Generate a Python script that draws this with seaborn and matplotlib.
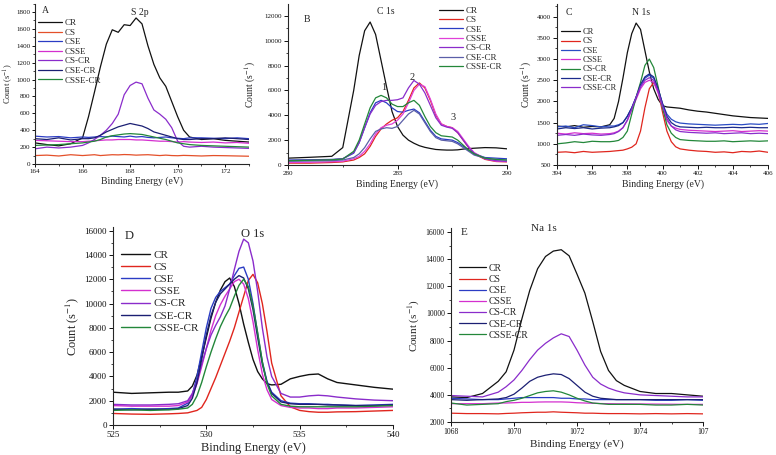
import matplotlib
matplotlib.use("Agg")
import matplotlib.pyplot as plt
from matplotlib.ticker import MultipleLocator
import pandas as pd
import seaborn as sns

# ─── SAMPLES ─────────────────────────────────────────────────
SAMPLES = ["CR", "CS", "CSE", "CSSE", "CS-CR", "CSE-CR", "CSSE-CR"]

# ─── A: S 2p ─────────────────────────────────────────────────
S2P_X = [164, 164.5, 165, 165.5, 166, 166.25, 166.5, 166.75, 167, 167.25,
         167.5, 167.75, 168, 168.25, 168.5, 168.75, 169, 169.25, 169.5, 169.75,
         170, 170.25, 170.5, 171, 171.5, 172, 172.5, 173]
S2P_CR = [250, 230, 215, 240, 310, 560, 850, 1150, 1420, 1590, 1560, 1650, 1640, 1730,
          1660, 1400, 1180, 1020, 920, 740, 560, 400, 320, 290, 300, 280, 270, 260]
S2P_CS = [100, 105, 95, 110, 100, 105, 110, 100, 105, 110, 108, 112, 110, 105,
          108, 110, 105, 100, 105, 100, 98, 102, 100, 95, 100, 98, 95, 92]
S2P_CSE = [330, 320, 325, 310, 320, 315, 320, 325, 320, 330, 325, 320, 330, 320,
           325, 315, 310, 315, 320, 310, 305, 300, 310, 310, 305, 300, 310, 300]
S2P_CSSE = [280, 275, 270, 265, 265, 270, 275, 280, 285, 285, 290, 290, 290, 285,
            285, 280, 275, 270, 270, 265, 260, 265, 260, 255, 260, 250, 255, 245]
S2P_CS_CR = [180, 200, 190, 200, 220, 250, 290, 340, 400, 480, 590, 820, 930, 970,
             950, 780, 640, 590, 530, 430, 270, 210, 200, 210, 200, 195, 190, 185]
S2P_CSE_CR = [300, 290, 310, 285, 300, 300, 310, 340, 380, 410, 440, 460, 480, 465,
              450, 420, 380, 360, 340, 320, 300, 290, 290, 300, 300, 310, 300, 290]
S2P_CSSE_CR = [220, 225, 230, 240, 250, 260, 270, 290, 320, 335, 345, 355, 360, 355,
               350, 335, 320, 305, 290, 270, 250, 240, 230, 220, 215, 210, 205, 200]

# ─── B: C 1s ─────────────────────────────────────────────────
C1S_X = [280, 281, 282, 282.5, 283, 283.25, 283.5, 283.75, 284, 284.25,
         284.5, 284.75, 285, 285.25, 285.5, 285.75, 286, 286.25, 286.5, 286.75,
         287, 287.25, 287.5, 287.75, 288, 288.25, 288.5, 289, 289.5, 290]
C1S_CR = [550, 620, 700, 1400, 6000, 8800, 10800, 11500, 10500, 8400,
          6300, 4300, 3100, 2400, 2000, 1750, 1550, 1420, 1330, 1250,
          1220, 1200, 1200, 1220, 1280, 1320, 1350, 1400, 1380, 1300]
C1S_CS = [150, 150, 200, 250, 400, 600, 900, 1500, 2300, 2900,
          3300, 3600, 3800, 4300, 5200, 6200, 6600, 6200, 5200, 4000,
          3300, 3100, 3000, 2600, 2000, 1400, 900, 450, 280, 250]
C1S_CSE = [400, 420, 450, 500, 950, 1800, 3000, 4200, 5000, 5200,
           5000, 4600, 4300, 4250, 4400, 4500, 4200, 3500, 2800, 2300,
           2100, 2050, 2000, 1800, 1500, 1200, 900, 600, 550, 500]
C1S_CSSE = [200, 220, 260, 300, 500, 700, 1100, 1700, 2500, 3000,
            3200, 3300, 3600, 4100, 5000, 6000, 6500, 6300, 5300, 4100,
            3300, 3100, 3000, 2700, 2100, 1500, 1000, 500, 300, 280]
C1S_CS_CR = [350, 380, 420, 500, 1000, 1800, 3000, 4100, 4800, 5100,
             5200, 5200, 5250, 5400, 6200, 6800, 6500, 5800, 4800, 3800,
             3200, 3050, 2950, 2600, 2000, 1400, 950, 500, 350, 300]
C1S_CSE_CR = [300, 320, 350, 400, 600, 900, 1400, 2100, 2700, 2900,
              3000, 2950, 3100, 3600, 4100, 4400, 4100, 3400, 2700, 2200,
              2000, 1950, 1900, 1700, 1400, 1100, 800, 550, 450, 400]
C1S_CSSE_CR = [350, 380, 420, 480, 1100, 2000, 3300, 4600, 5400, 5600,
               5400, 4900, 4700, 4700, 5000, 5200, 4800, 3900, 3100, 2600,
               2350, 2300, 2250, 2000, 1600, 1200, 900, 550, 450, 400]
C1S_PEAKS = ["1", "2", "3"]
C1S_PEAK_X = [284.35, 285.65, 287.55]
C1S_PEAK_Y = [6200, 7000, 3800]

# ─── C: N 1s ─────────────────────────────────────────────────
N1S_X = [394, 394.5, 395, 395.5, 396, 396.5, 397, 397.25, 397.5, 397.75,
         398, 398.25, 398.5, 398.75, 399, 399.25, 399.5, 399.75, 400, 400.25,
         400.5, 400.75, 401, 401.5, 402, 402.5, 403, 403.5, 404, 404.5,
         405, 405.5, 406]
N1S_CR = [1420, 1400, 1430, 1390, 1410, 1400, 1450, 1600, 2000, 2550,
          3150, 3600, 3850, 3700, 3200, 2700, 2300, 2050, 1900, 1870,
          1860, 1850, 1840, 1800, 1770, 1750, 1720, 1690, 1660, 1640,
          1620, 1610, 1600]
N1S_CS = [800, 810, 790, 820, 800, 810, 820, 830, 840, 850,
          880, 920, 1000, 1300, 1850, 2300, 2450, 2250, 1750, 1300,
          1050, 930, 880, 850, 830, 820, 800, 810, 790, 820,
          810, 830, 800]
N1S_CSE = [1400, 1420, 1380, 1450, 1430, 1400, 1420, 1420, 1450, 1500,
           1650, 1850, 2100, 2350, 2550, 2620, 2550, 2300, 1950, 1700,
           1580, 1520, 1490, 1470, 1460, 1450, 1440, 1450, 1460, 1450,
           1470, 1460, 1480]
N1S_CSSE = [1250, 1230, 1260, 1240, 1250, 1230, 1240, 1260, 1300, 1380,
            1550, 1800, 2050, 2300, 2450, 2500, 2450, 2200, 1850, 1550,
            1420, 1370, 1340, 1320, 1310, 1300, 1290, 1300, 1310, 1290,
            1300, 1310, 1300]
N1S_CS_CR = [1000, 1020, 1050, 1030, 1060, 1050, 1050, 1060, 1080, 1150,
             1300, 1700, 2100, 2450, 2850, 3000, 2800, 2350, 1850, 1450,
             1250, 1150, 1100, 1080, 1070, 1060, 1060, 1070, 1050, 1060,
             1070, 1060, 1070]
N1S_CSE_CR = [1350, 1380, 1360, 1380, 1350, 1370, 1380, 1400, 1430, 1500,
              1650, 1850, 2100, 2400, 2580, 2650, 2580, 2300, 1950, 1650,
              1500, 1430, 1400, 1390, 1380, 1390, 1380, 1380, 1390, 1380,
              1390, 1380, 1380]
N1S_CSSE_CR = [1200, 1220, 1200, 1230, 1210, 1200, 1220, 1240, 1290, 1380,
               1560, 1820, 2100, 2350, 2500, 2560, 2500, 2250, 1900, 1600,
               1420, 1330, 1290, 1270, 1260, 1250, 1260, 1240, 1250, 1260,
               1240, 1250, 1240]

# ─── D: O 1s ─────────────────────────────────────────────────
O1S_X = [525, 526, 527, 528, 528.5, 529, 529.25, 529.5, 529.75, 530,
         530.25, 530.5, 530.75, 531, 531.25, 531.5, 531.75, 532, 532.25, 532.5,
         532.75, 533, 533.25, 533.5, 534, 534.5, 535, 535.5, 536, 536.5,
         537, 538, 539, 540]
O1S_CR = [2700, 2600, 2650, 2700, 2700, 2800, 3200, 4100, 5600, 7200,
          8800, 10100, 11100, 11800, 12100, 11400, 10000, 8300, 6800, 5400,
          4400, 3800, 3400, 3300, 3350, 3800, 4000, 4150, 4200, 3800,
          3500, 3300, 3100, 2950]
O1S_CS = [950, 900, 880, 920, 950, 1000, 1100, 1200, 1450, 2100,
          3000, 3900, 4900, 5900, 6900, 8000, 9300, 10600, 11900, 12400,
          11700, 10000, 7700, 5100, 2400, 1500, 1200, 1100, 1050, 1050,
          1080, 1100, 1150, 1200]
O1S_CSE = [1300, 1350, 1300, 1350, 1400, 1800, 2500, 4000, 6000, 8000,
           9600, 10500, 11000, 11300, 11600, 12300, 12900, 13000, 12000, 10000,
           7500, 5200, 3600, 2700, 2000, 1800, 1750, 1750, 1700, 1700,
           1650, 1600, 1650, 1700]
O1S_CSSE = [1600, 1550, 1550, 1550, 1600, 1900, 2400, 3400, 4800, 6300,
            7800, 9000, 9900, 10600, 11200, 11800, 12000, 11600, 10400, 8500,
            6200, 4200, 2900, 2100, 1600, 1450, 1400, 1400, 1350, 1350,
            1400, 1400, 1450, 1500]
O1S_CS_CR = [1700, 1650, 1650, 1700, 1750, 2000, 2600, 3600, 5000, 6300,
             7400, 8200, 8900, 9800, 11200, 12800, 14300, 15300, 15000, 13500,
             11000, 8000, 5600, 4000, 2600, 2300, 2300, 2400, 2450, 2400,
             2300, 2150, 2050, 2000]
O1S_CSE_CR = [1300, 1250, 1300, 1280, 1350, 1600, 2200, 3500, 5400, 7400,
              9000, 10100, 10800, 11200, 11600, 12000, 12300, 12100, 11200, 9500,
              7200, 5000, 3500, 2600, 1900, 1750, 1700, 1700, 1700, 1650,
              1650, 1600, 1600, 1650]
O1S_CSSE_CR = [1200, 1250, 1200, 1250, 1300, 1400, 1700, 2400, 3500, 4800,
               6000, 7100, 8100, 8900, 9600, 10600, 11500, 12000, 11400, 9800,
               7600, 5200, 3400, 2400, 1700, 1550, 1500, 1500, 1500, 1500,
               1500, 1500, 1550, 1600]

# ─── E: Na 1s ────────────────────────────────────────────────
NA1S_X = [1068, 1068.5, 1069, 1069.5, 1069.75, 1070, 1070.25, 1070.5, 1070.75, 1071,
          1071.25, 1071.5, 1071.75, 1072, 1072.25, 1072.5, 1072.75, 1073, 1073.25, 1073.5,
          1074, 1074.5, 1075, 1075.5, 1076]
NA1S_CR = [3850, 3800, 4100, 5000, 5700, 7300, 9600, 11700, 13300, 14200,
           14600, 14700, 14250, 12900, 11500, 9400, 7200, 5800, 5050, 4700,
           4250, 4100, 4100, 4000, 3900]
NA1S_CS = [2650, 2620, 2620, 2600, 2630, 2650, 2680, 2700, 2720, 2720,
           2750, 2720, 2700, 2680, 2650, 2650, 2630, 2620, 2620, 2620,
           2600, 2620, 2600, 2620, 2600]
NA1S_CSE = [3750, 3700, 3650, 3650, 3700, 3750, 3800, 3800, 3800, 3800,
            3800, 3750, 3750, 3700, 3700, 3650, 3650, 3650, 3650, 3650,
            3650, 3600, 3600, 3650, 3600]
NA1S_CSSE = [3350, 3350, 3350, 3400, 3400, 3420, 3450, 3450, 3470, 3480,
             3480, 3480, 3460, 3420, 3400, 3380, 3360, 3350, 3340, 3340,
             3330, 3320, 3310, 3300, 3300]
NA1S_CS_CR = [3950, 3900, 3850, 4200, 4600, 5100, 5800, 6600, 7300, 7800,
              8200, 8500, 8300, 7300, 6200, 5300, 4800, 4500, 4300, 4150,
              4000, 3950, 3900, 3850, 3850]
NA1S_CSE_CR = [3650, 3600, 3650, 3700, 3800, 4050, 4500, 5000, 5300, 5450,
               5550, 5500, 5200, 4700, 4200, 3900, 3750, 3700, 3650, 3650,
               3650, 3650, 3650, 3650, 3650]
NA1S_CSSE_CR = [3400, 3250, 3300, 3350, 3500, 3600, 3750, 3950, 4150, 4250,
                4300, 4200, 4000, 3750, 3550, 3400, 3350, 3300, 3300, 3300,
                3300, 3250, 3250, 3300, 3250]
NA1S_TICKS = [1068, 1070, 1072, 1074, 1076]
NA1S_TICK_LABELS = ["1068", "1070", "1072", "1074", "107"]

# ─── COLOURS ─────────────────────────────────────────────────
BASE = ["#111111", "#e0261e", "#2b3cc4", "#d42fcf", "#8a2ccb", "#1b1f73", "#23873a"]
COLORS_A = ["#111111", "#e4502a", "#2b3cc4", "#d42fcf", "#8a2ccb", "#1b1f73", "#23873a"]
COLORS_B = ["#111111", "#e0261e", "#2b3cc4", "#e040d8", "#8a2ccb", "#5b5fa8", "#23873a"]
COLORS_C = ["#111111", "#e0261e", "#2b4cc4", "#d42fcf", "#23873a", "#1b2a8c", "#8a2ccb"]

# ─── STYLE ───────────────────────────────────────────────────
sns.set_theme(style="ticks")
plt.rcParams["font.family"] = ["Liberation Serif", "DejaVu Serif"]
plt.rcParams["mathtext.fontset"] = "stix"
plt.rcParams["axes.linewidth"] = 0.8

W, H = 776, 455
fig = plt.figure(figsize=(W / 100, H / 100), dpi=100)


def px_axes(left, right, top, bottom):
    return fig.add_axes([left / W, 1 - bottom / H, (right - left) / W, (bottom - top) / H])


def draw(ax, x, cols, colors, lw=0.9):
    df = pd.DataFrame({"energy": x})
    for name, vals in zip(SAMPLES, cols):
        df[name] = vals
    data = df.melt(id_vars="energy", var_name="sample", value_name="count")
    sns.lineplot(data=data, x="energy", y="count", hue="sample", hue_order=SAMPLES,
                 palette=dict(zip(SAMPLES, colors)), estimator=None,
                 linewidth=lw, ax=ax)
    sns.despine(ax=ax)


def style(ax, xlim, ylim, xmaj, xmin, ymaj, ymin, tick_fs, label_fs, ylab_x,
          ylab_fs=None, pad=1.5, tlen=3):
    ax.set_xlim(*xlim)
    ax.set_ylim(*ylim)
    ax.xaxis.set_major_locator(MultipleLocator(xmaj))
    ax.xaxis.set_minor_locator(MultipleLocator(xmin))
    ax.yaxis.set_major_locator(MultipleLocator(ymaj))
    ax.yaxis.set_minor_locator(MultipleLocator(ymin))
    ax.tick_params(which="major", direction="out", length=tlen, width=0.7,
                   labelsize=tick_fs, pad=pad, colors="#111111")
    ax.tick_params(which="minor", direction="out", length=tlen * 0.55, width=0.6)
    ax.set_xlabel("Binding Energy (eV)", fontsize=label_fs, labelpad=2)
    ax.set_ylabel("Count (s$^{-1}$)", fontsize=ylab_fs or label_fs)
    # right edge of the rotated label sits at ylab_x (axes fraction)
    ax.yaxis.set_label_coords(ylab_x, 0.5)


def legend(ax, anchor, fs, spacing, hl=2.6):
    ax.legend(loc="upper left", bbox_to_anchor=anchor, frameon=False, fontsize=fs,
              labelspacing=spacing, handlelength=hl, handletextpad=0.3,
              borderaxespad=0, borderpad=0)


# ─── A ───────────────────────────────────────────────────────
axA = px_axes(35, 249, 3.6, 164)
draw(axA, S2P_X, [S2P_CR, S2P_CS, S2P_CSE, S2P_CSSE, S2P_CS_CR, S2P_CSE_CR, S2P_CSSE_CR], COLORS_A)
style(axA, (164, 173), (0, 1900), 2, 1, 200, 100, 5, 7, -0.092, ylab_fs=6, pad=1, tlen=2.5)
legend(axA, (0.015, 0.905), 6.5, 0.14)
axA.text(0.03, 0.985, "A", transform=axA.transAxes, fontsize=7, va="top")
axA.text(0.49, 0.975, "S 2p", transform=axA.transAxes, fontsize=7, va="top", ha="center")

# ─── B ───────────────────────────────────────────────────────
axB = px_axes(288, 507, 4, 165)
draw(axB, C1S_X, [C1S_CR, C1S_CS, C1S_CSE, C1S_CSSE, C1S_CS_CR, C1S_CSE_CR, C1S_CSSE_CR], COLORS_B)
style(axB, (280, 290), (0, 12950), 5, 2.5, 2000, 1000, 5, 7, -0.135)
legend(axB, (0.69, 0.985), 6.5, 0.12)
axB.text(0.07, 0.93, "B", transform=axB.transAxes, fontsize=7, va="top")
axB.text(0.445, 0.98, "C 1s", transform=axB.transAxes, fontsize=7, va="top", ha="center")
for lab, px, py in zip(C1S_PEAKS, C1S_PEAK_X, C1S_PEAK_Y):
    axB.text(px, py, lab, fontsize=7.5, ha="center", va="center")

# ─── C ───────────────────────────────────────────────────────
axC = px_axes(557, 768, 4, 165)
draw(axC, N1S_X, [N1S_CR, N1S_CS, N1S_CSE, N1S_CSSE, N1S_CS_CR, N1S_CSE_CR, N1S_CSSE_CR], COLORS_C)
style(axC, (394, 406), (500, 4300), 2, 1, 500, 250, 5, 7, -0.11)
legend(axC, (0.02, 0.85), 6, 0.16, hl=2.3)
axC.text(0.04, 0.975, "C", transform=axC.transAxes, fontsize=7, va="top")
axC.text(0.4, 0.975, "N 1s", transform=axC.transAxes, fontsize=7, va="top", ha="center")

# ─── D ───────────────────────────────────────────────────────
axD = px_axes(113, 393, 227, 425)
draw(axD, O1S_X, [O1S_CR, O1S_CS, O1S_CSE, O1S_CSSE, O1S_CS_CR, O1S_CSE_CR, O1S_CSSE_CR], BASE, lw=1.0)
style(axD, (525, 540), (0, 16300), 5, 2.5, 2000, 1000, 6.5, 9, -0.115)
legend(axD, (0.03, 0.885), 8, 0.22, hl=2.6)
axD.text(0.04, 0.985, "D", transform=axD.transAxes, fontsize=9, va="top")
axD.text(0.5, 0.995, "O 1s", transform=axD.transAxes, fontsize=9, va="top", ha="center")

# ─── E ───────────────────────────────────────────────────────
axE = px_axes(451, 703, 228, 422)
draw(axE, NA1S_X, [NA1S_CR, NA1S_CS, NA1S_CSE, NA1S_CSSE, NA1S_CS_CR, NA1S_CSE_CR, NA1S_CSSE_CR], BASE)
style(axE, (1068, 1076), (2000, 16300), 2, 1, 2000, 1000, 5.5, 8, -0.115)
axE.set_xticks(NA1S_TICKS, labels=NA1S_TICK_LABELS)
legend(axE, (0.03, 0.815), 7, 0.22, hl=2.8)
axE.text(0.04, 1.0, "E", transform=axE.transAxes, fontsize=8, va="top")
axE.text(0.37, 1.02, "Na 1s", transform=axE.transAxes, fontsize=8, va="top", ha="center")

fig.savefig("out.png", dpi=100)
plt.close(fig)
